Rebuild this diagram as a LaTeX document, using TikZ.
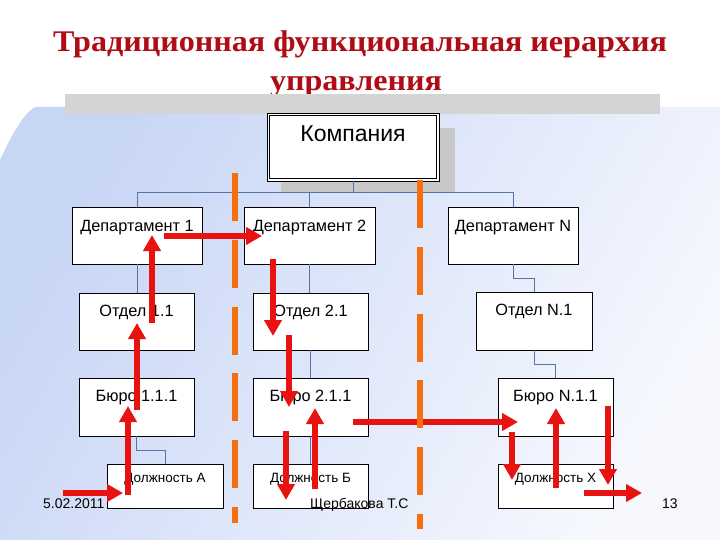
\documentclass[tikz,border=0pt]{standalone}
\usepackage{fontspec}
\setmainfont{Liberation Serif}
\newfontfamily\arialf{Liberation Sans}
\usetikzlibrary{arrows.meta,calc}
\definecolor{titlered}{RGB}{175,12,22}
\definecolor{linkblue}{RGB}{85,115,165}
\definecolor{arrred}{RGB}{232,18,16}
\definecolor{dashorange}{RGB}{245,110,15}
\definecolor{bgblue}{RGB}{200,214,245}
\definecolor{bgwhite}{RGB}{246,248,254}
\definecolor{bargray}{RGB}{212,212,212}
\definecolor{shadowgray}{RGB}{200,200,200}
\tikzset{
  orgbox/.style={draw=black, line width=0.8pt, fill=white, inner sep=0pt},
  boxtext/.style={font=\arialf\fontsize{16.3}{18}\selectfont, anchor=base, inner sep=0pt},
  smalltext/.style={font=\arialf\fontsize{13.5}{15}\selectfont, anchor=base, inner sep=0pt},
  foottext/.style={font=\arialf\fontsize{14}{16}\selectfont, anchor=base west, inner sep=0pt},
  titletext/.style={font=\bfseries\fontsize{30}{34}\selectfont, text=titlered, anchor=base, inner sep=0pt},
  link/.style={draw=linkblue, line width=0.8pt},
  redarrow/.style={draw=arrred, line width=6.5pt, -{Triangle[length=16pt,width=17pt]}},
  sepline/.style={draw=dashorange, line width=6pt, dash pattern=on 48pt off 18.8pt},
}
\begin{document}
\begin{tikzpicture}[x=1pt,y=-1pt]
\useasboundingbox (0,0) rectangle (720,540);
% background
\fill[white] (0,0) rectangle (720,540);
\shade[left color=bgblue, right color=bgwhite, shading angle=60]
  (35,107) -- (720,107) -- (720,540) -- (0,540) -- (0,160)
  .. controls (12,135) and (22,115) .. (35,107) -- cycle;
% title
\node[titletext] (title1) at (360,52) {\scalebox{1.07}[1]{Традиционная функциональная иерархия}};
\node[titletext] (title2) at (356,91) {\scalebox{1.07}[1]{управления}};
\fill[bargray] (65,94) rectangle (660,114);
% company shadow
\fill[shadowgray] (281,128) rectangle (455,193);
% boxes
\node[orgbox, minimum width=172pt, minimum height=68pt] (komp) at (353,147) {};
\draw[line width=0.9pt] ($(komp.north west)+(2.5,2.5)$) rectangle ($(komp.south east)+(-2.5,-2.5)$);
\node[orgbox, minimum width=130pt, minimum height=57pt] (d1) at (137,235.5) {};
\node[orgbox, minimum width=131pt, minimum height=57pt] (d2) at (309.5,235.5) {};
\node[orgbox, minimum width=130pt, minimum height=57pt] (dN) at (513,235.5) {};
\node[orgbox, minimum width=115pt, minimum height=57pt] (o1) at (136.5,321.5) {};
\node[orgbox, minimum width=115pt, minimum height=57pt] (o2) at (310.5,321.5) {};
\node[orgbox, minimum width=116pt, minimum height=58pt] (oN) at (534,321) {};
\node[orgbox, minimum width=115pt, minimum height=58pt] (b1) at (136.5,407) {};
\node[orgbox, minimum width=115pt, minimum height=58pt] (b2) at (310.5,407) {};
\node[orgbox, minimum width=115pt, minimum height=58pt] (bN) at (555.5,407) {};
\node[orgbox, minimum width=116pt, minimum height=44pt] (p1) at (165,486) {};
\node[orgbox, minimum width=115pt, minimum height=44pt] (p2) at (310.5,486) {};
\node[orgbox, minimum width=115pt, minimum height=44pt] (pN) at (555.5,486) {};
% connectors
\draw[link] (komp.south) -- ++(0,11) -| (d1.north);
\draw[link] (komp.south) -- ++(0,11) -| (d2.north);
\draw[link] (komp.south) -- ++(0,11) -| (dN.north);
\draw[link] (d1.south) -- (d1.south |- o1.north);
\draw[link] (o1.south) -- (o1.south |- b1.north);
\draw[link] (b1.south) -- ++(0,14) -| (p1.north);
\draw[link] (d2.south) -- (d2.south |- o2.north);
\draw[link] (o2.south) -- (o2.south |- b2.north);
\draw[link] (b2.south) -- (b2.south |- p2.north);
\draw[link] (dN.south) -- ++(0,14) -| (oN.north);
\draw[link] (oN.south) -- ++(0,14) -| (bN.north);
% box texts
\node[font=\arialf\fontsize{23}{26}\selectfont, anchor=base, inner sep=0pt] (tkomp) at ($(komp.north)+(0,29)$) {Компания};
\node[boxtext] (td1) at ($(d1.north)+(0,25)$) {Департамент 1};
\node[boxtext] (td2) at ($(d2.north)+(0,25)$) {Департамент 2};
\node[boxtext] (tdN) at ($(dN.north)+(0,25)$) {Департамент N};
\node[boxtext] (to1) at ($(o1.north)+(0,24)$) {Отдел 1.1};
\node[boxtext] (to2) at ($(o2.north)+(0,24)$) {Отдел 2.1};
\node[boxtext] (toN) at ($(oN.north)+(0,24)$) {Отдел N.1};
\node[boxtext] (tb1) at ($(b1.north)+(0,24)$) {Бюро 1.1.1};
\node[boxtext] (tb2) at ($(b2.north)+(0,24)$) {Бюро 2.1.1};
\node[boxtext] (tbN) at ($(bN.north)+(0,24)$) {Бюро N.1.1};
\node[smalltext] (tp1) at ($(p1.north)+(0,19)$) {Должность А};
\node[smalltext] (tp2) at ($(p2.north)+(0,19)$) {Должность Б};
\node[smalltext] (tpN) at ($(pN.north)+(0,19)$) {Должность X};
% red arrow end points
\coordinate (a1s) at (164,236); \coordinate (a1e) at (262,236);
\coordinate (a2s) at (152,323); \coordinate (a2e) at (152,235);
\coordinate (a3s) at (273,259); \coordinate (a3e) at (273,336);
\coordinate (a4s) at (137,410); \coordinate (a4e) at (137,323);
\coordinate (a5s) at (128,495); \coordinate (a5e) at (128,406);
\coordinate (a6s) at (63,493);  \coordinate (a6e) at (123,493);
\coordinate (a7s) at (289,335); \coordinate (a7e) at (289,407);
\coordinate (a8s) at (286,431); \coordinate (a8e) at (286,500);
\coordinate (a9s) at (315,489); \coordinate (a9e) at (315,408);
\coordinate (a10s) at (353,422); \coordinate (a10e) at (518,422);
\coordinate (a11s) at (512,432); \coordinate (a11e) at (512,480);
\coordinate (a12s) at (556,488); \coordinate (a12e) at (556,408);
\coordinate (a13s) at (608,406); \coordinate (a13e) at (608,485);
\coordinate (a14s) at (584,493); \coordinate (a14e) at (642,493);
\foreach \i in {1,...,14} { \draw[redarrow] (a\i s) -- (a\i e); }
% orange separators
\coordinate (s1t) at (235,173); \coordinate (s1b) at (235,523);
\coordinate (s2t) at (420,180); \coordinate (s2b) at (420,529);
\draw[sepline] (s1t) -- (s1b);
\draw[sepline] (s2t) -- (s2b);
% footer
\node[foottext] (fdate) at (43,508) {5.02.2011};
\node[foottext] (fauth) at (310,508) {Щербакова Т.С};
\node[foottext] (fpage) at (662,508) {13};
\end{tikzpicture}
\end{document}
